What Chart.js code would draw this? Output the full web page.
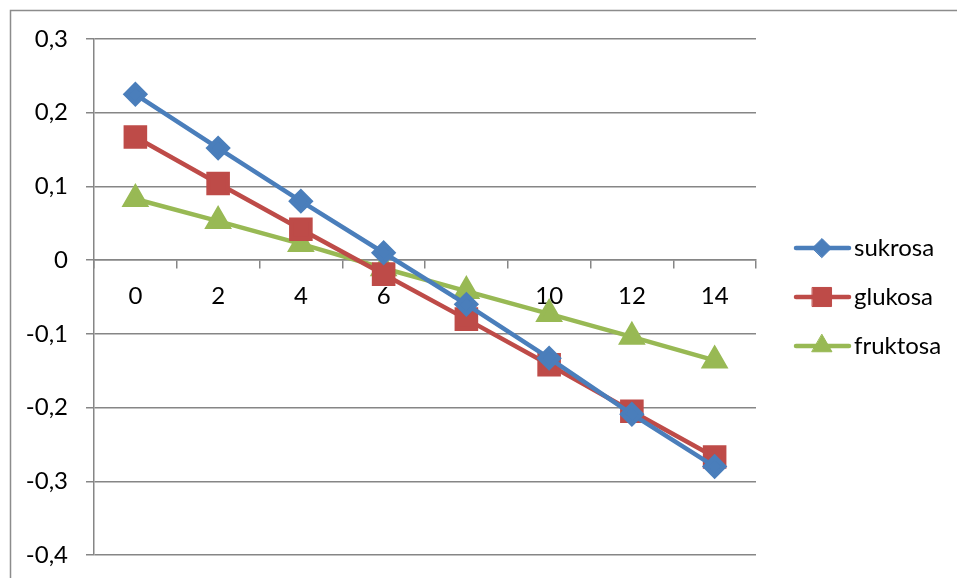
<!DOCTYPE html>
<html>
<head>
<meta charset="utf-8">
<script src="https://cdn.jsdelivr.net/npm/chart.js@4/dist/chart.umd.min.js"></script>
<style>
html,body{margin:0;padding:0;background:#fff;}
#wrap{width:957px;height:578px;position:relative;}
</style>
</head>
<body>
<div id="wrap"><canvas id="c" width="957" height="578"></canvas></div>
<script>
const categories = ['0','2','4','6','8','10','12','14'];
const sukrosa  = [0.225, 0.152, 0.080, 0.010, -0.060, -0.133, -0.209, -0.280];
const glukosa  = [0.167, 0.104, 0.042, -0.019, -0.080, -0.142, -0.205, -0.267];
const fruktosa = [0.083, 0.053, 0.022, -0.011, -0.042, -0.073, -0.104, -0.136];
const seriesNames = ['sukrosa','glukosa','fruktosa'];
const yTicks = [-0.4,-0.3,-0.2,-0.1,0,0.1,0.2,0.3];

const FONT = 'Lato, Carlito, Calibri, sans-serif';
const GRID = '#868686';
const FS = 24;

const legendPlugin = {
  id: 'customLegend',
  beforeDraw(chart){
    const ctx = chart.ctx;
    ctx.save();
    ctx.strokeStyle = '#8c8c8c';
    ctx.lineWidth = 1.5;
    ctx.strokeRect(10.5, 10.5, 1000, 1000);
    ctx.restore();
  },
  afterDraw(chart){
    const ctx = chart.ctx;
    const rows = [248, 297, 346];
    chart.data.datasets.forEach((ds, i) => {
      const y = rows[i];
      ctx.save();
      ctx.strokeStyle = ds.borderColor;
      ctx.lineWidth = 4.5;
      ctx.lineCap = 'round';
      ctx.beginPath();
      ctx.moveTo(796, y);
      ctx.lineTo(849, y);
      ctx.stroke();
      ctx.fillStyle = ds.pointBackgroundColor;
      ctx.strokeStyle = ds.pointBorderColor;
      ctx.lineWidth = 1;
      Chart.helpers.drawPoint(ctx, {pointStyle: ds.pointStyle, radius: ds.pointRadius, rotation: ds.pointRotation || 0, borderWidth: 1}, 822, y);
      ctx.fillStyle = '#000';
      ctx.font = FS + 'px ' + FONT;
      ctx.textBaseline = 'middle';
      ctx.textAlign = 'left';
      ctx.fillText(ds.label, 854, y);
      ctx.restore();
    });
  }
};

new Chart(document.getElementById('c'), {
  type: 'line',
  data: {
    labels: categories,
    datasets: [
      {label: seriesNames[0], data: sukrosa, borderColor: '#4A7EBB', pointBackgroundColor: '#4A7EBB', pointBorderColor: '#4A7EBB', pointStyle: 'rectRot', pointRadius: 9.5, borderWidth: 4.5},
      {label: seriesNames[1], data: glukosa, borderColor: '#BE4B48', pointBackgroundColor: '#BE4B48', pointBorderColor: '#BE4B48', pointStyle: 'rect', pointRadius: 13.5, borderWidth: 4.5},
      {label: seriesNames[2], data: fruktosa, borderColor: '#98B954', pointBackgroundColor: '#98B954', pointBorderColor: '#98B954', pointStyle: 'triangle', pointRadius: 11.5, borderWidth: 4.5}
    ]
  },
  options: {
    responsive: false,
    animation: false,
    events: [],
    layout: {padding: {left: 0, top: 39, right: 201, bottom: 23}},
    plugins: {legend: {display: false}, tooltip: {enabled: false}},
    elements: {line: {tension: 0}, point: {borderWidth: 1}},
    scales: {
      x: {
        type: 'category',
        position: {y: 0},
        offset: true,
        grid: {offset: true, drawOnChartArea: false, drawTicks: true, tickLength: 8, color: GRID, lineWidth: 1.5},
        border: {display: true, color: GRID, width: 1.5},
        ticks: {color: '#000', font: {family: FONT, size: FS}, padding: 14, maxRotation: 0}
      },
      y: {
        min: -0.4, max: 0.3,
        afterFit(scale){ scale.width = 94; scale.paddingTop = 0; scale.paddingBottom = 0; },
        afterBuildTicks(scale){ scale.ticks = yTicks.map(v => ({value: v})); },
        grid: {color: GRID, lineWidth: 1.5, tickLength: 8},
        border: {display: true, color: GRID, width: 1.5},
        ticks: {
          color: '#000', font: {family: FONT, size: FS}, padding: 18,
          callback: v => (Math.round(v*10)/10).toString().replace('.', ',')
        }
      }
    }
  },
  plugins: [legendPlugin]
});
</script>
</body>
</html>
